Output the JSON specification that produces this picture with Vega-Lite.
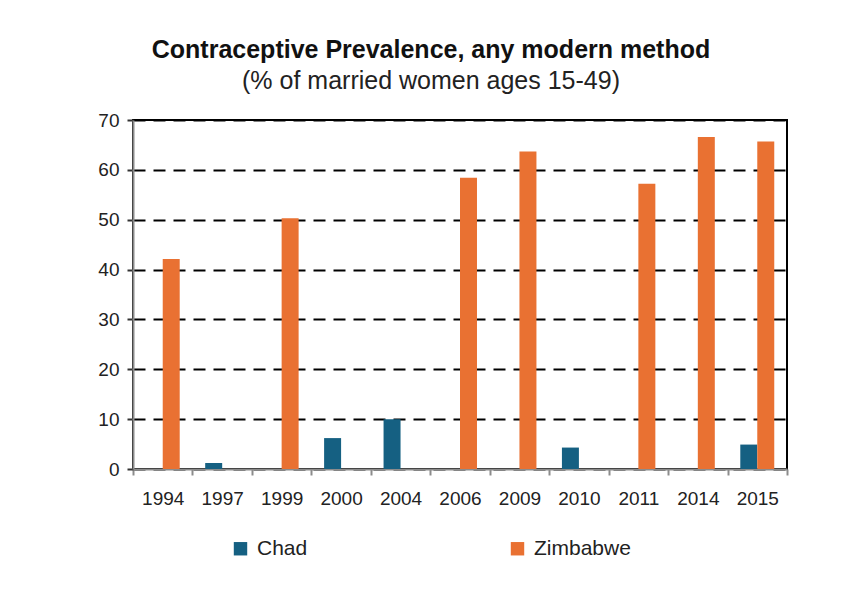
{
  "$schema": "https://vega.github.io/schema/vega-lite/v6.json",
  "width": 654,
  "height": 349,
  "autosize": {"type": "none"},
  "padding": {"left": 133, "top": 120, "right": 54, "bottom": 121},
  "background": "white",
  "title": {
    "text": "Contraceptive Prevalence, any modern method",
    "subtitle": "(% of married women ages 15-49)",
    "anchor": "middle",
    "dx": -29,
    "offset": 17,
    "font": "Liberation Sans",
    "fontSize": 25,
    "fontWeight": "bold",
    "color": "#111111",
    "subtitleFont": "Liberation Sans",
    "subtitleFontSize": 25,
    "subtitleColor": "#222222",
    "subtitlePadding": 6
  },
  "data": {
    "values": [
      {"year": "1994", "country": "Zimbabwe", "value": 42.1},
      {"year": "1997", "country": "Chad", "value": 1.2},
      {"year": "1999", "country": "Zimbabwe", "value": 50.3},
      {"year": "2000", "country": "Chad", "value": 6.2},
      {"year": "2004", "country": "Chad", "value": 10.0},
      {"year": "2006", "country": "Zimbabwe", "value": 58.4},
      {"year": "2009", "country": "Zimbabwe", "value": 63.7},
      {"year": "2010", "country": "Chad", "value": 4.3},
      {"year": "2011", "country": "Zimbabwe", "value": 57.2},
      {"year": "2014", "country": "Zimbabwe", "value": 66.6},
      {"year": "2015", "country": "Chad", "value": 4.9},
      {"year": "2015", "country": "Zimbabwe", "value": 65.7}
    ]
  },
  "mark": {"type": "bar"},
  "encoding": {
    "x": {
      "field": "year",
      "type": "nominal",
      "sort": ["1994","1997","1999","2000","2004","2006","2009","2010","2011","2014","2015"],
      "scale": {"domain": ["1994","1997","1999","2000","2004","2006","2009","2010","2011","2014","2015"], "paddingInner": 0, "paddingOuter": 0},
      "axis": {
        "title": null,
        "labelAngle": 0,
        "tickBand": "extent",
        "domainColor": "#8c8c8c",
        "domainWidth": 2,
        "tickColor": "#8c8c8c",
        "tickWidth": 2,
        "tickSize": 6,
        "labelPadding": 14,
        "labelFont": "Liberation Sans",
        "labelFontSize": 19,
        "labelColor": "#222222"
      }
    },
    "xOffset": {
      "field": "country",
      "type": "nominal",
      "scale": {"domain": ["Chad", "Zimbabwe"], "paddingInner": 0, "paddingOuter": 0.75}
    },
    "y": {
      "field": "value",
      "type": "quantitative",
      "scale": {"domain": [0, 70], "nice": false},
      "axis": {
        "title": null,
        "values": [0,10,20,30,40,50,60,70],
        "domainColor": "#8c8c8c",
        "domainWidth": 2,
        "tickColor": "#333333",
        "tickWidth": 2,
        "tickSize": 6,
        "labelPadding": 8,
        "labelFont": "Liberation Sans",
        "labelFontSize": 19,
        "labelColor": "#222222",
        "grid": true,
        "gridColor": "#000000",
        "gridWidth": 2,
        "gridDash": [12, 8]
      }
    },
    "color": {
      "field": "country",
      "type": "nominal",
      "scale": {"domain": ["Chad", "Zimbabwe"], "range": ["#156082", "#E97132"]},
      "legend": {
        "title": null,
        "orient": "none",
        "direction": "horizontal",
        "legendX": 97,
        "legendY": 418,
        "symbolType": "square",
        "symbolSize": 180,
        "symbolStrokeWidth": 0,
        "symbolOpacity": 1,
        "columnPadding": 199,
        "labelFont": "Liberation Sans",
        "labelFontSize": 21,
        "labelColor": "#222222",
        "labelOffset": 6
      }
    }
  },
  "config": {
    "view": {"stroke": "#000000", "strokeWidth": 2}
  }
}
